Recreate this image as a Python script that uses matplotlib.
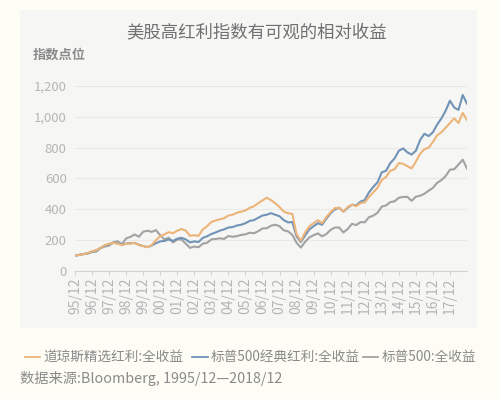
import matplotlib
matplotlib.use("Agg")
import matplotlib.pyplot as plt
from matplotlib.lines import Line2D
from matplotlib.patches import Rectangle
import numpy as np

plt.rcParams['font.family'] = ['Noto Sans CJK SC', 'DejaVu Sans']

# 季度数据, 1995/12 = 100
dj_select = [100,
             104, 110, 116, 128,   # 1996
             135, 150, 168, 176,   # 1997
             182, 178, 168, 176,   # 1998
             178, 182, 168, 162,   # 1999
             155, 168, 200, 225,   # 2000
             238, 252, 245, 262,   # 2001
             272, 262, 228, 232,   # 2002
             228, 270, 290, 318,   # 2003
             328, 335, 342, 360,   # 2004
             365, 378, 385, 392,   # 2005
             410, 420, 440, 458,   # 2006
             475, 460, 440, 415,   # 2007
             385, 375, 370, 240,   # 2008
             195, 250, 290, 310,   # 2009
             330, 310, 350, 382,   # 2010
             408, 410, 385, 415,   # 2011
             430, 420, 440, 445,   # 2012
             480, 510, 540, 590,   # 2013
             610, 650, 660, 700,   # 2014
             695, 680, 665, 710,   # 2015
             760, 790, 800, 837,   # 2016
             880, 900, 930, 960,   # 2017
             990, 960, 1025, 980]  # 2018
sp_div = [100,
          104, 110, 115, 126,
          134, 150, 165, 175,
          182, 180, 170, 178,
          180, 182, 170, 162,
          155, 165, 180, 192,
          195, 205, 195, 210,
          215, 205, 185, 192,
          188, 215, 225, 240,
          250, 262, 270, 282,
          285, 295, 300, 310,
          325, 330, 345, 360,
          365, 375, 365, 355,
          330, 315, 318, 225,
          188, 230, 270, 290,
          310, 300, 340, 375,
          400, 410, 385, 410,
          430, 425, 450, 460,
          510, 545, 575, 640,
          650, 700, 730, 780,
          795, 770, 755, 780,
          850, 890, 875, 900,
          950, 990, 1040, 1105,
          1060, 1045, 1142, 1085]
sp500 = [100,
         105, 110, 113, 123,
         126, 148, 159, 164,
         187, 193, 174, 211,
         221, 237, 222, 255,
         261, 254, 265, 232,
         204, 216, 185, 204,
         205, 177, 150, 159,
         154, 178, 183, 205,
         208, 212, 208, 227,
         222, 226, 234, 238,
         248, 245, 258, 276,
         277, 294, 300, 291,
         264, 257, 235, 183,
         152, 189, 218, 232,
         244, 225, 240, 267,
         282, 282, 250, 272,
         306, 298, 317, 316,
         349, 359, 378, 418,
         425, 447, 452, 475,
         480, 481, 455, 482,
         488, 501, 521, 539,
         572, 590, 616, 657,
         660, 690, 722, 665]

years = ["%02d/12" % (y % 100) for y in range(1995, 2018)]
names = ["道琼斯精选红利:全收益", "标普500经典红利:全收益", "标普500:全收益"]
colors = ["#EDB47A", "#7193B6", "#A2A2A2"]

fig = plt.figure(figsize=(5, 3.99), dpi=100, facecolor="#FEFDF5")
fig.add_artist(Rectangle((0.04, 0.178), 0.914, 0.797, transform=fig.transFigure,
                         facecolor="#F6F6F4", edgecolor="none", zorder=0))

ax = fig.add_axes([0.15, 0.3208, 0.784, 0.4637])
ax.set_facecolor("none")
x = np.arange(len(sp500))
ax.plot(x, sp500, color=colors[2], lw=1.5)
ax.plot(x, sp_div, color=colors[1], lw=1.5)
ax.plot(x, dj_select, color=colors[0], lw=1.5)

ax.set_xlim(0, len(sp500) - 1)
ax.set_ylim(0, 1200)
ax.set_yticks(range(0, 1201, 200))
ax.set_yticklabels(["{:,}".format(v) for v in range(0, 1201, 200)])
ax.set_xticks(range(0, 4 * len(years), 4))
ax.set_xticklabels(years, rotation=90)
ax.grid(axis="y", color="#E8E8E6", lw=0.8)
ax.set_axisbelow(True)
for s in ["top", "right", "left"]:
    ax.spines[s].set_visible(False)
ax.spines["bottom"].set_color("#D2D2D2")
ax.tick_params(axis="y", length=0, labelsize=9.5, labelcolor="#B5B5B5", pad=6)
ax.tick_params(axis="x", length=3, color="#D2D2D2", labelsize=10, labelcolor="#B5B5B5", pad=2)

fig.text(0.514, 0.92, "美股高红利指数有可观的相对收益", ha="center", va="center",
         fontsize=12.5, color="#707070")
fig.text(0.066, 0.862, "指数点位", ha="left", va="center", fontsize=9.5,
         color="#8A8A8A", fontweight="bold")

# 图例
leg_x = [(0.05, 0.08, 0.086), (0.384, 0.416, 0.422), (0.726, 0.756, 0.764)]
for (x0, x1, tx), name, c in zip(leg_x, names, colors):
    fig.add_artist(Line2D([x0, x1], [0.105, 0.105], transform=fig.transFigure,
                          color=c, lw=1.3))
    fig.text(tx, 0.105, name, ha="left", va="center", fontsize=9.8, color="#8A8A8A")

fig.text(0.04, 0.052, "数据来源:Bloomberg, 1995/12—2018/12", ha="left", va="center",
         fontsize=10.3, color="#8A8A8A")

fig.savefig("out.png", dpi=100, facecolor=fig.get_facecolor())
